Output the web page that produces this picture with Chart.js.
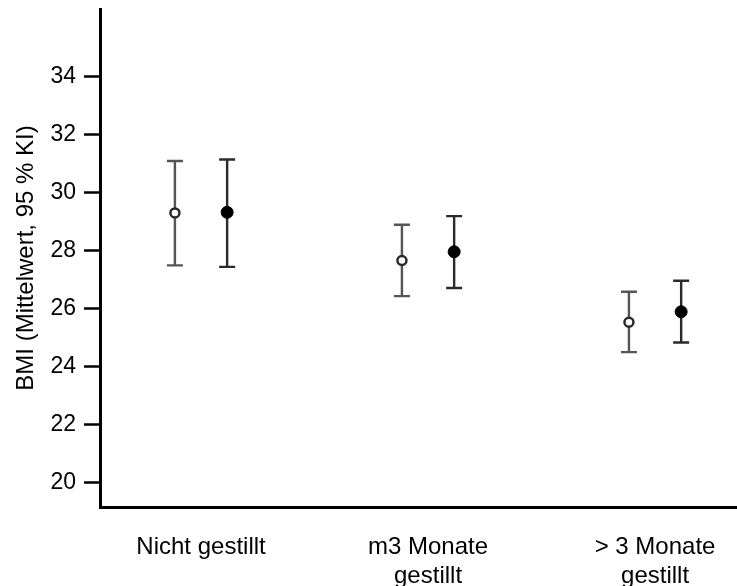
<!DOCTYPE html>
<html>
<head>
<meta charset="utf-8">
<script src="https://cdn.jsdelivr.net/npm/chart.js@4/dist/chart.umd.min.js"></script>
<style>
  body { margin: 0; background: #fff; }
  canvas { display: block; }
</style>
</head>
<body>
<canvas id="grafico" width="737" height="586"></canvas>
<script>
// Daten
const kategorien = ["Nicht gestillt", ["m3 Monate", "gestillt"], ["> 3 Monate", "gestillt"]];
const yTicks = [20, 22, 24, 26, 28, 30, 32, 34];

// offene Kreise
const offenMittel = [29.31, 27.67, 25.54];
const offenUnten = [27.50, 26.44, 24.51];
const offenOben = [31.10, 28.90, 26.59];

// gefuellte Kreise
const vollMittel = [29.33, 27.97, 25.90];
const vollUnten = [27.45, 26.72, 24.84];
const vollOben = [31.15, 29.20, 26.97];

const versatz = 0.115; // seitlicher Abstand der beiden Punkte je Gruppe
const schrift = "'Liberation Sans', Arial, sans-serif";

function punkte(mittel, dx) {
    return mittel.map((v, i) => ({ x: i + dx, y: v }));
}

// zeichnet die Fehlerbalken (95 % KI) ueber die Skalen des Diagramms
const fehlerBalken = {
    id: "fehlerBalken",
    beforeDatasetsDraw(chart) {
        const ctx = chart.ctx;
        const xs = chart.scales.x;
        const ys = chart.scales.y;
        chart.data.datasets.forEach(ds => {
            ctx.save();
            ctx.strokeStyle = ds.balkenFarbe;
            ctx.lineWidth = 2.4;
            ds.data.forEach((p, i) => {
                const x = xs.getPixelForValue(p.x);
                const yo = ys.getPixelForValue(ds.oben[i]);
                const yu = ys.getPixelForValue(ds.unten[i]);
                ctx.beginPath();
                ctx.moveTo(x, yo); ctx.lineTo(x, yu);
                ctx.moveTo(x - 8, yo); ctx.lineTo(x + 8, yo);
                ctx.moveTo(x - 8, yu); ctx.lineTo(x + 8, yu);
                ctx.stroke();
            });
            ctx.restore();
        });
    }
};

const ctx = document.getElementById("grafico");

new Chart(ctx, {
    type: "scatter",
    data: {
        datasets: [{
            data: punkte(offenMittel, -versatz),
            unten: offenUnten,
            oben: offenOben,
            balkenFarbe: "#555555",
            pointRadius: 4.5,
            pointBorderWidth: 2.5,
            pointBackgroundColor: "#ffffff",
            pointBorderColor: "#2a2a2a"
        }, {
            data: punkte(vollMittel, versatz),
            unten: vollUnten,
            oben: vollOben,
            balkenFarbe: "#2a2a2a",
            pointRadius: 6,
            pointBorderWidth: 1,
            pointBackgroundColor: "#000000",
            pointBorderColor: "#000000"
        }]
    },
    options: {
        responsive: false,
        animation: false,
        layout: { autoPadding: false, padding: { top: 9, right: 0, left: 0, bottom: 0 } },
        plugins: {
            legend: { display: false },
            tooltip: { enabled: false }
        },
        scales: {
            x: {
                type: "linear",
                min: -0.445,
                max: 2.361,
                afterBuildTicks: s => { s.ticks = kategorien.map((k, i) => ({ value: i })); },
                afterFit: s => { s.height = 79; s.paddingLeft = 0; s.paddingRight = 0; },
                grid: { display: false },
                border: { display: true, color: "#000", width: 3 },
                ticks: {
                    color: "#000",
                    font: { family: schrift, size: 24 },
                    padding: 18,
                    maxRotation: 0,
                    autoSkip: false,
                    callback: v => kategorien[v]
                }
            },
            y: {
                min: 19.17,
                max: 36.34,
                afterBuildTicks: s => { s.ticks = yTicks.map(v => ({ value: v })); },
                afterFit: s => { s.width = 100; s.paddingTop = 0; s.paddingBottom = 0; },
                grid: {
                    display: true,
                    drawOnChartArea: false,
                    drawTicks: true,
                    tickLength: 16,
                    tickWidth: 2.5,
                    tickColor: "#000"
                },
                border: { display: true, color: "#000", width: 3 },
                ticks: {
                    color: "#000",
                    font: { family: schrift, size: 23 },
                    padding: 8
                },
                title: {
                    display: true,
                    text: "BMI (Mittelwert, 95 % KI)",
                    color: "#000",
                    font: { family: schrift, size: 24 },
                    padding: { top: 12, bottom: 0 }
                }
            }
        }
    },
    plugins: [fehlerBalken]
});
</script>
</body>
</html>
